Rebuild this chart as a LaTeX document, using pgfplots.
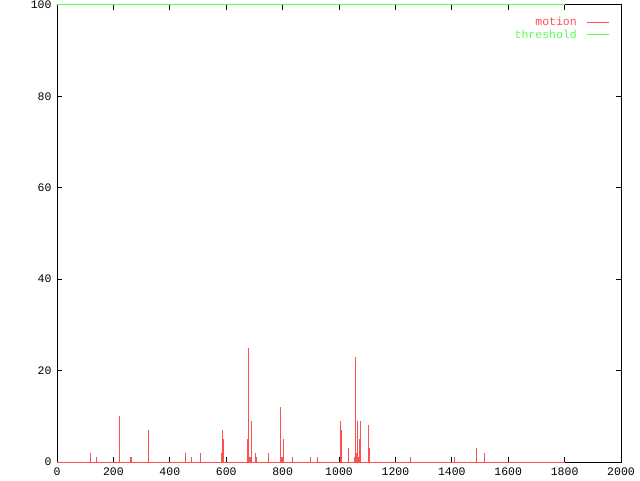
\documentclass[border=0pt]{standalone}
\usepackage{pgfplots}
\pgfplotsset{compat=1.18}
\usepackage{fontspec}
\setmainfont{Liberation Mono}
\setmonofont{Liberation Mono}
\definecolor{gpred}{RGB}{255,80,80}
\definecolor{gpgreen}{RGB}{85,255,85}
\begin{document}
\begin{tikzpicture}
\useasboundingbox (0,0) rectangle (640pt,480pt);
\begin{axis}[
  at={(57pt,18pt)}, anchor=south west,
  scale only axis, width=564pt, height=457pt,
  xmin=0, xmax=2000, ymin=0, ymax=100,
  xtick={0,200,...,2000}, ytick={0,20,...,100},
  tick align=inside, major tick length=5pt,
  axis line style={black, line width=1pt},
  every tick/.style={black, line width=1pt},
  tick label style={font=\fontsize{11.5}{11.5}\selectfont\ttfamily},
  /pgf/number format/assume math mode=true,
  /pgf/number format/1000 sep={},
  xticklabel style={yshift=-2pt},
  yticklabel style={xshift=-2pt},
  legend style={at={(rel axis cs:1,1)}, anchor=north east, xshift=-11pt, yshift=-10pt,
    draw=none, fill=none, inner sep=0pt, row sep=-1pt,
    font=\fontsize{11.5}{11.5}\selectfont\ttfamily},
  legend cell align=right,
  legend plot pos=right,
  legend image code/.code={\draw[#1, line width=1pt] (0pt,0pt) -- (22pt,0pt);},
]
\addplot[gpred, line width=1pt, ycomb, mark=none, forget plot] coordinates {
(118,2) (141,1) (221,10) (262,1) (264,1) (324,7) (455,2) (476,1) (508,2)
(582,2) (586,7) (589,5) (675,5) (678,25) (680,1) (682,1) (684,1) (686,1)
(689,9) (703,2) (707,1) (749,2) (792,12) (796,1) (798,1) (800,1) (803,5)
(834,1) (898,1) (923,1) (1005,9) (1008,7) (1033,3) (1054,1) (1058,23)
(1061,2) (1065,9) (1068,1) (1072,5) (1076,9) (1104,8) (1107,3) (1253,1)
(1409,1) (1487,3) (1515,2)
};
\addplot[gpred, line width=1pt, mark=none, forget plot] coordinates {(0,0) (1800,0)};
\addplot[gpgreen, line width=1pt, mark=none, forget plot] coordinates {(0,100) (1800,100)};
\addlegendimage{gpred}
\addlegendentry{\textcolor{gpred}{motion}\hspace*{8pt}}
\addlegendimage{gpgreen}
\addlegendentry{\textcolor{gpgreen}{threshold}\hspace*{8pt}}
\end{axis}
\end{tikzpicture}
\end{document}
